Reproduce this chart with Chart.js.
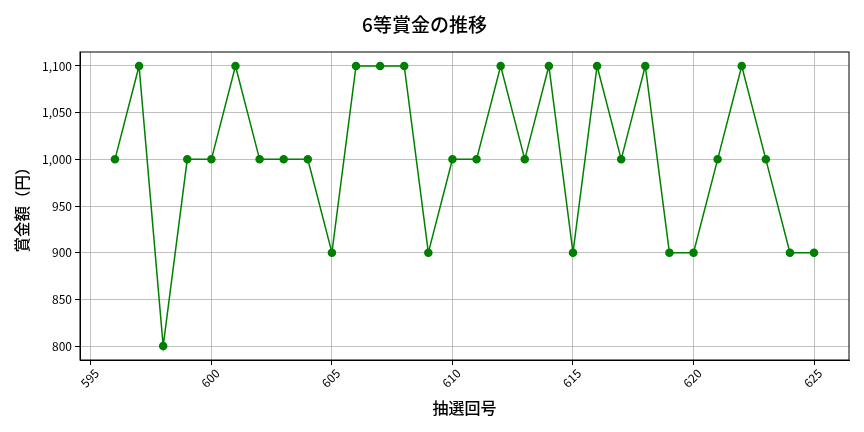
<!DOCTYPE html>
<html>
<head>
<meta charset="utf-8">
<script src="https://cdn.jsdelivr.net/npm/chart.js@4/dist/chart.umd.min.js"></script>
<style>
  html, body { margin: 0; padding: 0; background: #fff; }
</style>
</head>
<body>
<canvas id="myChart" width="864" height="432"></canvas>
<script>
// 抽選回号と6等賞金
const rounds = [596, 597, 598, 599, 600, 601, 602, 603, 604, 605,
                606, 607, 608, 609, 610, 611, 612, 613, 614, 615,
                616, 617, 618, 619, 620, 621, 622, 623, 624, 625]
const prizes = [1000, 1100, 800, 1000, 1000, 1100, 1000, 1000, 1000, 900,
                1100, 1100, 1100, 900, 1000, 1000, 1100, 1000, 1100, 900,
                1100, 1000, 1100, 900, 900, 1000, 1100, 1000, 900, 900]
const xTicks = [595, 600, 605, 610, 615, 620, 625]
const yTicks = [800, 850, 900, 950, 1000, 1050, 1100]

const font = "'Noto Sans CJK JP', 'Noto Sans', sans-serif"
const canvas = document.getElementById('myChart')

// matplotlib style frame round the plot area
const frame = {
    id: 'frame',
    afterDraw(chart) {
        const { ctx, chartArea: a } = chart
        ctx.save()
        ctx.strokeStyle = '#000'
        ctx.lineWidth = 1
        ctx.strokeRect(a.left, a.top, a.right - a.left, a.bottom - a.top)
        ctx.restore()
    }
}

const config = {
    type: 'line',
    data: {
        datasets: [{
            data: rounds.map((r, i) => ({ x: r, y: prizes[i] })),
            borderColor: '#008000',
            backgroundColor: '#008000',
            borderWidth: 1.5,
            pointRadius: 3.5,
            pointHoverRadius: 3.5,
            tension: 0
        }]
    },
    options: {
        responsive: false,
        animation: false,
        devicePixelRatio: 1,
        layout: { padding: { left: 0, right: 15, top: 0, bottom: 0 } },
        plugins: {
            legend: { display: false },
            tooltip: { enabled: false },
            title: {
                display: true,
                text: '6等賞金の推移',
                color: '#000',
                font: { family: font, size: 19, weight: '500', lineHeight: 1.2 },
                padding: { top: 13.6, bottom: 15.6 }
            }
        },
        scales: {
            x: {
                type: 'linear',
                min: 594.55,
                max: 626.45,
                afterBuildTicks: axis => { axis.ticks = xTicks.map(v => ({ value: v })) },
                afterFit: axis => { axis.height = 72 },
                ticks: {
                    color: '#000',
                    font: { family: font, size: 12 },
                    minRotation: 45,
                    maxRotation: 45,
                    labelOffset: 6,
                    padding: 1,
                    callback: v => String(v)
                },
                grid: { color: '#b0b0b0', lineWidth: 0.8, tickColor: '#000', tickLength: 5, tickWidth: 1 },
                border: { display: true, color: '#000', width: 1 },
                title: {
                    display: true,
                    text: '抽選回号',
                    color: '#000',
                    font: { family: font, size: 16, weight: '500', lineHeight: 1.2 },
                    padding: { top: 0, bottom: 14 }
                }
            },
            y: {
                min: 785,
                max: 1115,
                afterBuildTicks: axis => { axis.ticks = yTicks.map(v => ({ value: v })) },
                afterFit: axis => { axis.width = 80 },
                ticks: {
                    color: '#000',
                    font: { family: font, size: 12 },
                    padding: 3,
                    callback: v => v.toLocaleString('en-US')
                },
                grid: { color: '#b0b0b0', lineWidth: 0.8, tickColor: '#000', tickLength: 5, tickWidth: 1 },
                border: { display: true, color: '#000', width: 1 },
                title: {
                    display: true,
                    text: '賞金額（円）',
                    color: '#000',
                    font: { family: font, size: 15.5, weight: '500', lineHeight: 1.2 },
                    padding: { top: 13, bottom: 0 }
                }
            }
        }
    },
    plugins: [frame]
}

new Chart(canvas, config)
</script>
</body>
</html>
